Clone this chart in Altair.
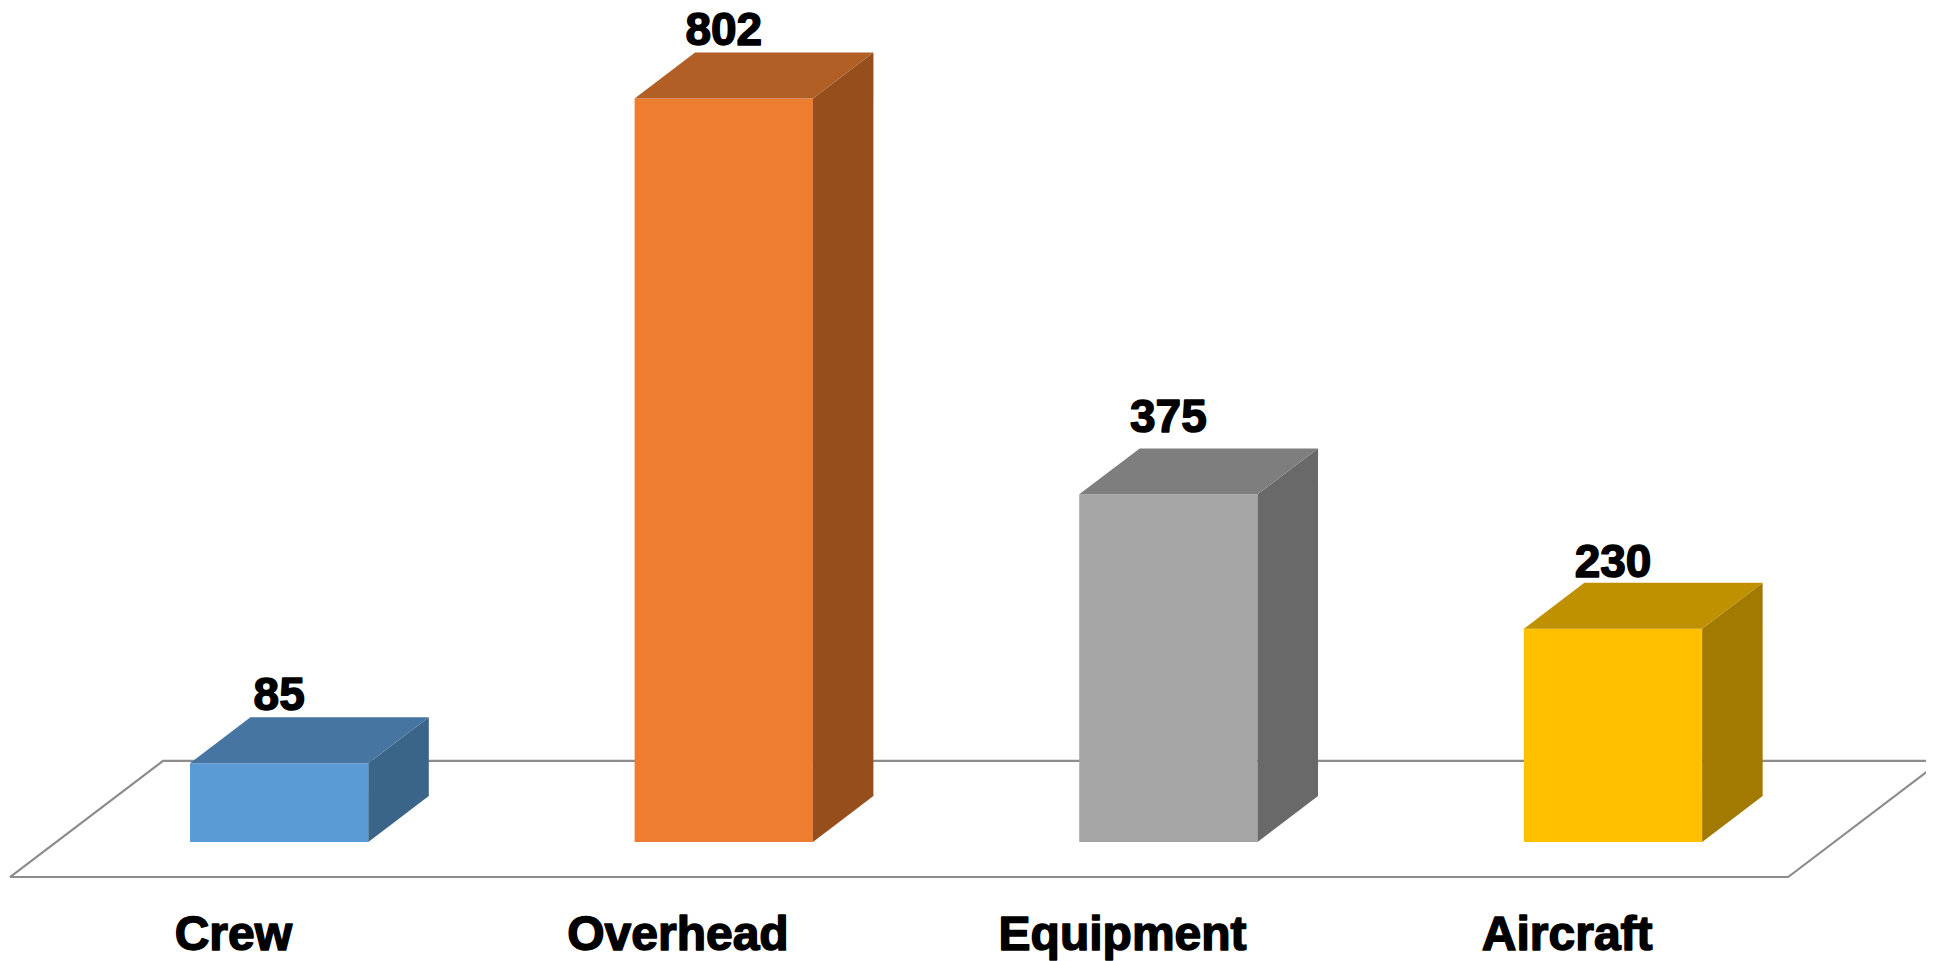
import altair as alt
import pandas as pd

categories = ["Crew", "Overhead", "Equipment", "Aircraft"]
values = [85, 802, 375, 230]
label_heights = [142, 860, 442, 286]
front_colors = ["#5B9BD5", "#ED7D31", "#A5A5A5", "#FFC000"]
top_colors = ["#4675A1", "#B25F25", "#7E7E7E", "#BF9000"]
side_colors = ["#3A6589", "#974E1D", "#696969", "#A37A00"]

# Oblique-projection geometry, in data units (category index / value)
BAR_LEFT, BAR_RIGHT = -0.0945, 0.3066
DEPTH_X, DEPTH_Y = 0.136, 49.6
FLOOR_L, FLOOR_R = -0.4993, 3.5
FLOOR_DX = 0.344
FLOOR_FRONT, FLOOR_BACK = -37.8, 87.4
LABEL_Y = -117.0
LABEL_SHIFT = 0.003

W, H = 1918, 953
x_scale = alt.Scale(domain=[-0.5038, 3.810], nice=False, zero=False)
y_scale = alt.Scale(domain=[-128.4, 899.7], nice=False, zero=False)
X = alt.X("x:Q", scale=x_scale, axis=None)
Y = alt.Y("y:Q", scale=y_scale, axis=None, stack=None)

front, side, top = [], [], []
for i, (c, v) in enumerate(zip(categories, values)):
    l, r = i + BAR_LEFT, i + BAR_RIGHT
    front.append({"c": c, "x": l, "x2": r, "y": 0, "y2": v})
    side.append({"c": c, "x": r, "y": 0, "y2": v})
    side.append({"c": c, "x": r + DEPTH_X, "y": DEPTH_Y, "y2": v + DEPTH_Y})
    top.append({"c": c, "x": l, "x2": r, "y": v})
    top.append({"c": c, "x": l + DEPTH_X, "x2": r + DEPTH_X, "y": v + DEPTH_Y})

floor = pd.DataFrame([
    {"o": 0, "x": FLOOR_L, "y": FLOOR_FRONT},
    {"o": 1, "x": FLOOR_L + FLOOR_DX, "y": FLOOR_BACK},
    {"o": 2, "x": FLOOR_R + FLOOR_DX, "y": FLOOR_BACK},
    {"o": 3, "x": FLOOR_R, "y": FLOOR_FRONT},
    {"o": 4, "x": FLOOR_L, "y": FLOOR_FRONT},
])


def color(colors):
    return alt.Color("c:N", scale=alt.Scale(domain=categories, range=colors), legend=None)


floor_layer = alt.Chart(floor).mark_line(color="#8C8C8C", strokeWidth=2.2, clip=True).encode(
    x=X, y=Y, order="o:Q"
)
front_layer = alt.Chart(pd.DataFrame(front)).mark_rect().encode(
    x=X, x2="x2:Q", y=Y, y2="y2:Q", color=color(front_colors)
)
side_layer = alt.Chart(pd.DataFrame(side)).mark_area(opacity=1).encode(
    x=X, y=Y, y2="y2:Q", color=color(side_colors)
)
top_layer = alt.Chart(pd.DataFrame(top)).mark_area(orient="horizontal", opacity=1).encode(
    x=alt.X("x:Q", scale=x_scale, axis=None, stack=None), x2="x2:Q",
    y=alt.Y("y:Q", scale=y_scale, axis=None), color=color(top_colors)
)

font = dict(font="Liberation Sans", fontWeight="bold", color="black",
            stroke="black", strokeWidth=1.5, strokeJoin="round")

value_df = pd.DataFrame({
    "x": [i + (BAR_LEFT + BAR_RIGHT) / 2 for i in range(4)],
    "y": label_heights,
    "t": [str(v) for v in values],
})
value_labels = alt.Chart(value_df).mark_text(baseline="alphabetic", align="center", fontSize=46, **font).encode(
    x=X, y=Y, text="t:N"
)
cat_df = pd.DataFrame({"x": [i + LABEL_SHIFT for i in range(4)], "y": [LABEL_Y] * 4, "t": categories})
cat_labels = alt.Chart(cat_df).mark_text(baseline="alphabetic", align="center", fontSize=48, **font).encode(
    x=X, y=Y, text="t:N"
)

chart = alt.layer(
    floor_layer, front_layer, side_layer, top_layer, value_labels, cat_labels
).resolve_scale(color="independent").properties(
    width=W, height=H, padding=0, background="white",
    autosize=alt.AutoSizeParams(type="none"),
).configure_view(stroke=None)

chart.save("out.html", embed_options={"renderer": "svg", "actions": False})
